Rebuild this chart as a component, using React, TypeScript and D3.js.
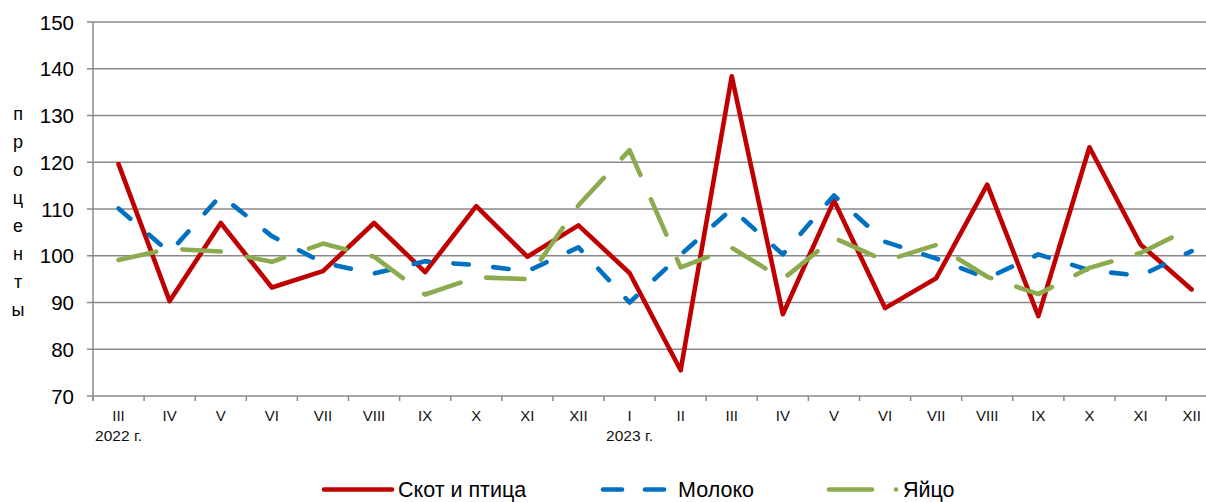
import React from "react";
import * as d3 from "d3";

const months = ["III", "IV", "V", "VI", "VII", "VIII", "IX", "X", "XI", "XII", "I", "II", "III", "IV", "V", "VI", "VII", "VIII", "IX", "X", "XI", "XII"];
const yearIndex = [0, 10];
const yearLabels = ["2022 г.", "2023 г."];
const yTicks = [70, 80, 90, 100, 110, 120, 130, 140, 150];
const yLabelLetters = ["п", "р", "о", "ц", "е", "н", "т", "ы"];

const livestock = [119.6, 90.3, 107, 93.2, 96.7, 107, 96.5, 110.6, 99.8, 106.5, 96.3, 75.5, 138.4, 87.5, 111.8, 88.8, 95.2, 115.2, 87.1, 123.2, 102.4, 92.8];
const milk = [110.1, 100.7, 112.9, 104.2, 98.5, 96.2, 98.8, 98.0, 96.7, 101.8, 90.0, 100.2, 110.0, 100.3, 112.9, 103.0, 99.4, 95.2, 100.3, 96.9, 95.7, 101.0];
const eggs = [99.1, 101.5, 100.9, 98.7, 102.6, 99.8, 91.7, 95.4, 95.0, 110.8, 122.6, 97.5, 101.7, 95.0, 103.8, 98.9, 102.3, 95.5, 91.8, 97.4, 100.6, 106.0];

const seriesNames = ["Скот и птица", "Молоко", "Яйцо"];

const FONT = "'Liberation Sans', Arial, sans-serif";
const GRID = "#898989";

export default function App() {
  const left = 93;
  const bandW = 51.1;
  const x = d3.scaleBand<number>().domain(d3.range(months.length)).range([left, left + bandW * months.length]).padding(0);
  const y = d3.scaleLinear().domain([70, 150]).range([396, 22]);
  const cx = (i: number) => (x(i) as number) + x.bandwidth() / 2;
  const line = d3.line<number>().x((_, i) => cx(i)).y((v) => y(v));

  const series = [
    { data: livestock, color: "#C00000", dash: undefined as string | undefined },
    { data: milk, color: "#0070C0", dash: "15.5 24.5" },
    { data: eggs, color: "#8CAA4E", dash: "38.5 26.5" },
  ];

  const [x0, x1] = x.range();
  const legY = 489.5;
  const legText = 497;

  return (
    <svg width={1206} height={502} style={{ position: "absolute", left: 0, top: 0, overflow: "hidden", background: "#fff" }} fontFamily={FONT}>
      {yTicks.map((t) => (
        <line key={"g" + t} x1={x0 - 6} x2={x1} y1={y(t)} y2={y(t)} stroke={GRID} strokeWidth={1.5} />
      ))}
      <line x1={x0} x2={x0} y1={y(150)} y2={y(70) + 5} stroke={GRID} strokeWidth={1.5} />
      {d3.range(months.length + 1).map((i) => (
        <line key={"xt" + i} x1={x0 + i * x.bandwidth()} x2={x0 + i * x.bandwidth()} y1={y(70)} y2={y(70) + 5} stroke={GRID} strokeWidth={1.5} />
      ))}
      {yTicks.map((t) => (
        <text key={"yl" + t} x={74} y={y(t) + 7.6} textAnchor="end" fontSize={20.5} fill="#000">{t}</text>
      ))}
      {yLabelLetters.map((c, i) => (
        <text key={"yt" + i} x={18} y={120 + i * 28} textAnchor="middle" fontSize={18} fill="#000">{c}</text>
      ))}
      {months.map((m, i) => (
        <text key={"xl" + i} x={cx(i)} y={420.5} textAnchor="middle" fontSize={15} fill="#111">{m}</text>
      ))}
      {yearIndex.map((idx, k) => (
        <text key={"yr" + k} x={cx(idx)} y={440.5} textAnchor="middle" fontSize={15.5} fill="#111">{yearLabels[k]}</text>
      ))}
      {series.map((s, k) => (
        <path key={"s" + k} d={line(s.data) || ""} fill="none" stroke={s.color} strokeWidth={4.6}
          strokeLinejoin="round" strokeLinecap="round" strokeDasharray={s.dash} />
      ))}
      <g>
        <line x1={324} x2={392} y1={legY} y2={legY} stroke="#C00000" strokeWidth={4.6} strokeLinecap="round" />
        <text x={398} y={legText} fontSize={21.5} fill="#000">{seriesNames[0]}</text>
        <line x1={603} x2={622} y1={legY} y2={legY} stroke="#0070C0" strokeWidth={4.6} strokeLinecap="round" />
        <line x1={645} x2={664} y1={legY} y2={legY} stroke="#0070C0" strokeWidth={4.6} strokeLinecap="round" />
        <text x={678} y={legText} fontSize={21.5} fill="#000">{seriesNames[1]}</text>
        <line x1={829} x2={872} y1={legY} y2={legY} stroke="#8CAA4E" strokeWidth={4.6} strokeLinecap="round" />
        <circle cx={896} cy={legY} r={2.3} fill="#8CAA4E" />
        <text x={903} y={legText} fontSize={21.5} fill="#000">{seriesNames[2]}</text>
      </g>
    </svg>
  );
}
